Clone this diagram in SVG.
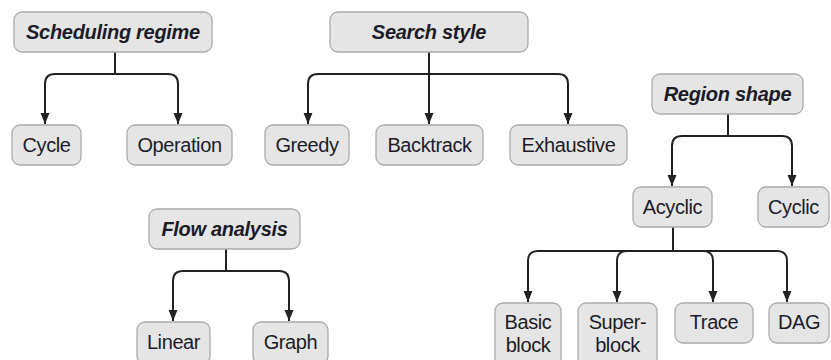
<svg xmlns="http://www.w3.org/2000/svg" width="831" height="360" viewBox="0 0 831 360">
<defs>
<style>
.box{fill:#e5e5e5;stroke:#ababab;stroke-width:1.3}
.t{font-family:"Liberation Sans",Arial,sans-serif;font-size:20px;letter-spacing:-0.4px;fill:#1c1c28;text-anchor:middle}
.h{font-weight:bold;font-style:italic;letter-spacing:-0.3px}
.c{fill:none;stroke:#222;stroke-width:2}
</style>
<marker id="ah" markerWidth="10" markerHeight="12" refX="11" refY="4.5" orient="auto" markerUnits="userSpaceOnUse">
<path d="M0,0 L11,4.5 L0,9 z" fill="#222"/>
</marker>
</defs>
<rect width="831" height="360" fill="#fff"/>
<g id="connectors">
<path class="c" d="M115,52 V74 H55 Q45,74 45,84 V124" marker-end="url(#ah)"/>
<path class="c" d="M115,74 H168 Q178,74 178,84 V124" marker-end="url(#ah)"/>
<path class="c" d="M429,52 V124" marker-end="url(#ah)"/>
<path class="c" d="M429,74 H318 Q308,74 308,84 V124" marker-end="url(#ah)"/>
<path class="c" d="M429,74 H558 Q568,74 568,84 V124" marker-end="url(#ah)"/>
<path class="c" d="M728,114 V136 H682 Q672,136 672,146 V186" marker-end="url(#ah)"/>
<path class="c" d="M728,136 H782 Q792,136 792,146 V186" marker-end="url(#ah)"/>
<path class="c" d="M673,227 V251 H538 Q528,251 528,261 V302" marker-end="url(#ah)"/>
<path class="c" d="M673,251 H627 Q617,251 617,261 V302" marker-end="url(#ah)"/>
<path class="c" d="M673,251 H703 Q713,251 713,261 V302" marker-end="url(#ah)"/>
<path class="c" d="M673,251 H777 Q787,251 787,261 V302" marker-end="url(#ah)"/>
<path class="c" d="M226,249 V271 H183 Q173,271 173,281 V321" marker-end="url(#ah)"/>
<path class="c" d="M226,271 H279 Q289,271 289,281 V321" marker-end="url(#ah)"/>
</g>
<g id="scheduling-regime"><rect class="box" x="14" y="12" width="198" height="40" rx="8"/><text class="t h" x="113" y="39">Scheduling regime</text></g>
<g id="cycle"><rect class="box" x="12" y="125" width="69" height="40" rx="8"/><text class="t" x="46.5" y="152">Cycle</text></g>
<g id="operation"><rect class="box" x="127" y="125" width="105" height="40" rx="8"/><text class="t" x="179.5" y="152">Operation</text></g>
<g id="search-style"><rect class="box" x="330" y="12" width="198" height="40" rx="8"/><text class="t h" x="429" y="39">Search style</text></g>
<g id="greedy"><rect class="box" x="265" y="125" width="84" height="40" rx="8"/><text class="t" x="307" y="152">Greedy</text></g>
<g id="backtrack"><rect class="box" x="376" y="125" width="107" height="40" rx="8"/><text class="t" x="429.5" y="152">Backtrack</text></g>
<g id="exhaustive"><rect class="box" x="510" y="125" width="117" height="40" rx="8"/><text class="t" x="568.5" y="152">Exhaustive</text></g>
<g id="region-shape"><rect class="box" x="652" y="74" width="151" height="40" rx="8"/><text class="t h" x="727.5" y="101">Region shape</text></g>
<g id="acyclic"><rect class="box" x="633" y="187" width="79" height="40" rx="8"/><text class="t" x="672.5" y="214">Acyclic</text></g>
<g id="cyclic"><rect class="box" x="758" y="187" width="71" height="40" rx="8"/><text class="t" x="793.5" y="214">Cyclic</text></g>
<g id="flow-analysis"><rect class="box" x="149" y="209" width="151" height="40" rx="8"/><text class="t h" x="224.5" y="236">Flow analysis</text></g>
<g id="linear"><rect class="box" x="137" y="322" width="73" height="42" rx="8"/><text class="t" x="173.5" y="349">Linear</text></g>
<g id="graph"><rect class="box" x="253" y="322" width="75" height="42" rx="8"/><text class="t" x="290.5" y="349">Graph</text></g>
<g id="basic-block"><rect class="box" x="495" y="303" width="66" height="66" rx="8"/><text class="t" x="528" y="329">Basic</text><text class="t" x="528" y="352">block</text></g>
<g id="superblock"><rect class="box" x="578" y="303" width="79" height="66" rx="8"/><text class="t" x="617.5" y="329">Super-</text><text class="t" x="617.5" y="352">block</text></g>
<g id="trace"><rect class="box" x="675" y="303" width="78" height="40" rx="8"/><text class="t" x="714" y="329">Trace</text></g>
<g id="dag"><rect class="box" x="769" y="303" width="60" height="40" rx="8"/><text class="t" x="799" y="329">DAG</text></g>
</svg>
